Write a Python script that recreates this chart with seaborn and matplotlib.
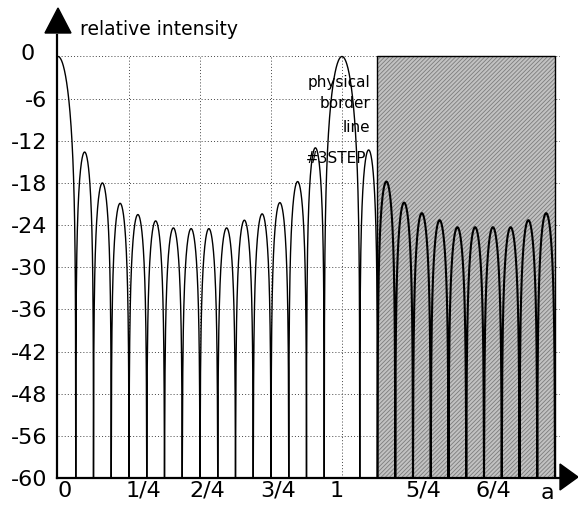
import numpy as np
import pandas as pd
import matplotlib
matplotlib.use("Agg")
import matplotlib.pyplot as plt
import matplotlib.transforms as mtransforms
from matplotlib.patches import Polygon, Rectangle
import seaborn as sns

# ---------------- data ----------------
main_lobe_pos = [0.0, 1.0]          # main / grating lobe positions (a)
main_lobe_peak_db = [0.0, 0.0]
main_lobe_halfwidth = 0.0625        # first null distance

# null positions of the side lobes (a)
null_pos = [0.0625, 0.125, 0.1875, 0.25, 0.3125, 0.375, 0.4375, 0.5,
            0.5625, 0.625, 0.6875, 0.75, 0.8125, 0.875, 0.9375,
            1.0625, 1.125, 1.1875, 1.25, 1.3125, 1.375, 1.4375, 1.5,
            1.5625, 1.625, 1.6875, 1.75]

# side lobe peak levels (dB), left to right
side_peak_db = [-13.6, -18.0, -20.9, -22.5, -23.4, -24.4, -24.5,
                -24.5, -24.4, -23.3, -22.4, -20.8, -17.8, -13.0,
                -13.3, -17.8, -20.8, -22.3, -23.3, -24.3, -24.3,
                -24.3, -24.3, -23.3, -22.3]

ytick_vals = [0, -6, -12, -18, -24, -30, -36, -42, -48, -54, -60]
ytick_labels = ["0", "-6", "-12", "-18", "-24", "-30", "-36", "-42",
                "-48", "-56", "-60"]
xtick_labels = ["0", "1/4", "2/4", "3/4", "1", "5/4", "6/4"]
xtick_label_pos = [0.025, 0.30, 0.525, 0.775, 0.982, 1.285, 1.532]
xgrid_vals = [0.25, 0.5, 0.75, 1.0, 1.25, 1.5]
shade_range = (1.125, 1.75)
border_text = ["physical", "border", "line"]

# ---------------- build the curve ----------------
FLOOR = -60.0
segments = []
# main lobes
for c, pk in zip(main_lobe_pos, main_lobe_peak_db):
    u = np.linspace(-1, 1, 161)
    x = c + u * main_lobe_halfwidth
    y = pk + 20 * np.log10(np.abs(np.sinc(u)) + 1e-12)
    keep = x >= 0
    segments.append((x[keep], y[keep]))
# side lobes
k = 0
for lo, hi in zip(null_pos[:-1], null_pos[1:]):
    if lo < 1.0 < hi:
        continue
    t = np.linspace(0, 1, 101)
    x = lo + t * (hi - lo)
    y = side_peak_db[k] + 20 * np.log10(np.abs(np.sin(np.pi * t)) + 1e-12)
    segments.append((x, y))
    k += 1
segments.sort(key=lambda s: s[0][0])
xs = np.concatenate([s[0] for s in segments])
ys = np.clip(np.concatenate([s[1] for s in segments]), FLOOR, 0)
df = pd.DataFrame({"a": xs, "dB": ys})
df_left = df[df["a"] <= shade_range[0]]
df_right = df[df["a"] >= shade_range[0]]

# ---------------- figure ----------------
sns.set_theme(style="white")
plt.rcParams["font.family"] = ["DejaVu Sans"]
plt.rcParams["text.color"] = "black"
plt.rcParams["xtick.color"] = "black"
plt.rcParams["ytick.color"] = "black"
plt.rcParams["hatch.linewidth"] = 0.6

W, H = 578, 508
fig = plt.figure(figsize=(W / 100, H / 100), dpi=100)
ax = fig.add_axes([57 / W, (H - 478) / H, (560 - 57) / W, (478 - 35) / H])
ax.set_xlim(-0.0035, 1.7676)
ax.set_ylim(-60, 3.06)

# grid (dotted)
for yv in ytick_vals[:-1]:
    ax.plot([0, 1.7676], [yv, yv], color="#444444", lw=0.7,
            ls=(0, (1, 2.2)), zorder=1)
for xv in xgrid_vals:
    ax.plot([xv, xv], [-60, 0], color="#444444", lw=0.7,
            ls=(0, (1, 2.2)), zorder=1)

# shaded region beyond physical border line
ax.add_patch(Rectangle((shade_range[0], -60), shade_range[1] - shade_range[0], 60,
                       facecolor="#c2c2c2", edgecolor="#7c7c7c", hatch="////////",
                       lw=0, zorder=2))
ax.add_patch(Rectangle((shade_range[0], -60), shade_range[1] - shade_range[0], 60,
                       fill=False, edgecolor="black", lw=1.0, zorder=2.5))

# curves
sns.lineplot(data=df_left, x="a", y="dB", sort=False, estimator=None,
             color="black", lw=1.0, ax=ax, zorder=3)
sns.lineplot(data=df_right, x="a", y="dB", sort=False, estimator=None,
             color="black", lw=1.5, ax=ax, zorder=3)

# axes styling
for s in ["top", "right"]:
    ax.spines[s].set_visible(False)
for s in ["left", "bottom"]:
    ax.spines[s].set_color("black")
    ax.spines[s].set_linewidth(1.6)
ax.set_xlabel("")
ax.set_ylabel("")
ax.set_yticks(ytick_vals)
ax.set_yticklabels(ytick_labels, fontsize=16)
ax.set_xticks(xtick_label_pos)
ax.set_xticklabels(xtick_labels, fontsize=16)
ax.tick_params(axis="y", length=0, pad=7, labelcolor="black")
ax.tick_params(axis="x", length=0, pad=2, labelcolor="black")
# the "0" label sits further left in the reference
lab0 = ax.get_yticklabels()[0]
lab0.set_transform(lab0.get_transform() +
                   mtransforms.ScaledTranslation(-13 / 100, 4 / 100, fig.dpi_scale_trans))

# annotation text
for txt, yv in zip(border_text, [-3.7, -6.7, -10.1]):
    ax.text(1.099, yv, txt, ha="right", va="center", fontsize=11,
            color="black", zorder=4)
ax.text(1.085, -14.5, "#3STEP", ha="right", va="center", fontsize=11,
        color="black", zorder=4)

# axis titles and arrows
fig.text(80 / W, 1 - 35 / H, "relative intensity", fontsize=13.5,
         ha="left", va="baseline", color="black")
fig.text(547 / W, 1 - 493 / H, "a", fontsize=16, ha="center", va="center",
         color="black")

def px(x, y):
    return (x / W, 1 - y / H)

fig.patches.append(Polygon([px(58, 8), px(45, 33), px(71, 33)], closed=True,
                           facecolor="black", edgecolor="black",
                           transform=fig.transFigure, figure=fig))
fig.patches.append(Polygon([px(578, 477), px(560, 464), px(560, 490)], closed=True,
                           facecolor="black", edgecolor="black",
                           transform=fig.transFigure, figure=fig))

fig.savefig("out.png", dpi=100)
